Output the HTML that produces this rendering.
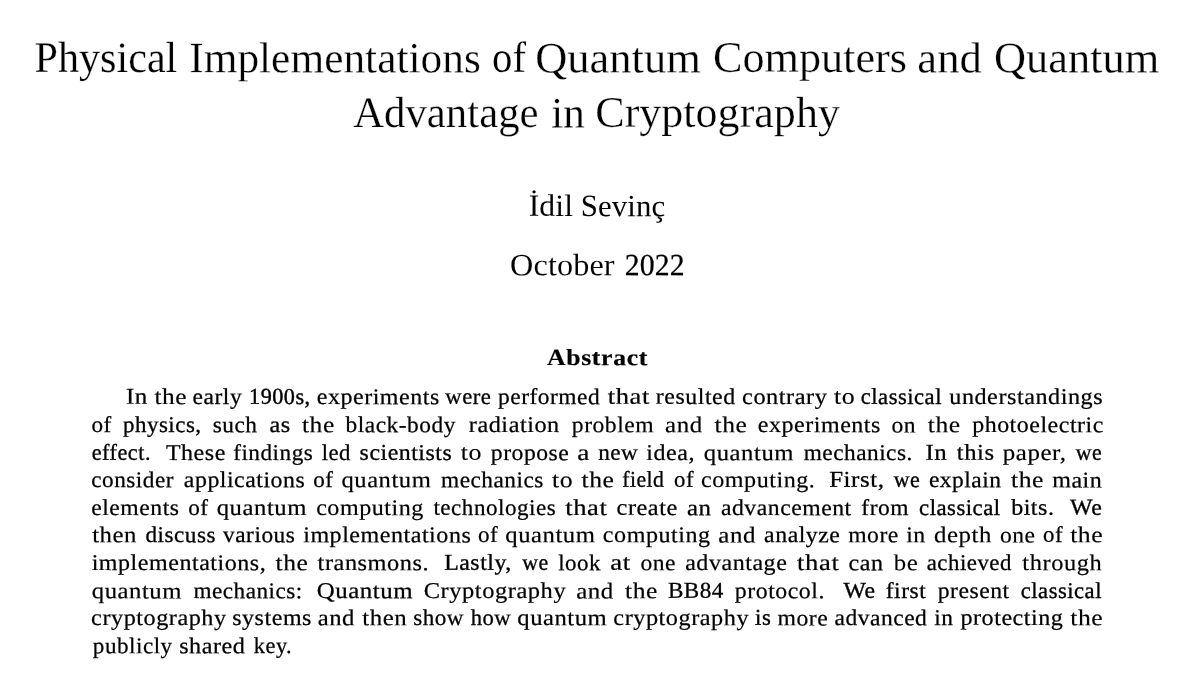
<!DOCTYPE html>
<html lang="en">
<head>
<meta charset="utf-8">
<title>Physical Implementations of Quantum Computers and Quantum Advantage in Cryptography</title>
<style>
html,body{margin:0;padding:0;background:#fff;}
body{width:1202px;height:692px;overflow:hidden;position:relative;font-family:"Liberation Serif",serif;color:#000;}
h1,h2,p{margin:0;padding:0;white-space:nowrap;}
span{position:absolute;left:0;top:0;display:block;transform-origin:0 0;white-space:pre;}
.title{font-size:43.5px;line-height:57px;font-weight:normal;}
.author{font-size:31px;line-height:40px;letter-spacing:0.1px;font-weight:normal;}
.abshead{font-size:23px;line-height:30px;letter-spacing:0.6px;font-weight:bold;}
.abs{font-size:22.6px;line-height:29px;letter-spacing:0.5px;font-weight:normal;}
</style>
</head>
<body>
<h1 class="title">
<span style="transform:matrix(0.9683,0.001,0,1,34.55,28.82);-webkit-text-stroke:0.193px #fff">Physical</span> <span style="transform:matrix(0.9974,0.001,0,1,189.18,29.31);-webkit-text-stroke:0.28px #fff">Implementations</span> <span style="transform:matrix(0.9351,0.001,0,1,492.08,28.72);-webkit-text-stroke:0.134px #fff">of</span> <span style="transform:matrix(1.0235,0.001,0,1,535.13,29.43);-webkit-text-stroke:0.278px #fff">Quantum</span> <span style="transform:matrix(1.0162,0.001,0,1,712.93,28.78);-webkit-text-stroke:0.27px #fff">Computers</span> <span style="transform:matrix(1.0278,0.001,0,1,917.31,29.53);-webkit-text-stroke:0.271px #fff">and</span> <span style="transform:matrix(1.0212,0.001,0,1,993.88,29.31);-webkit-text-stroke:0.25px #fff">Quantum</span>
<span style="transform:matrix(0.984,0.001,0,1,353.15,83.93);-webkit-text-stroke:0.258px #fff">Advantage</span> <span style="transform:matrix(0.9918,0.001,0,1,551.22,84.45);-webkit-text-stroke:0.238px #fff">in</span> <span style="transform:matrix(1.0125,0.001,0,1,595.27,83.73);-webkit-text-stroke:0.267px #fff">Cryptography</span>
</h1>
<p class="author">
<span style="transform:matrix(1.0245,0.001,0,1,528.67,185.85);-webkit-text-stroke:0.029px #fff">İdil</span> <span style="transform:matrix(0.9945,0.001,0,1,580.81,186.11);-webkit-text-stroke:0.018px #000">Sevinç</span>
</p>
<p class="author">
<span style="transform:matrix(1.0405,0.001,0,1,510.09,245.13);-webkit-text-stroke:0.067px #fff">October</span> <span style="transform:matrix(0.9603,0.001,0,1,624.73,245.13);-webkit-text-stroke:0.245px #000">2022</span>
</p>
<h2 class="abshead">
<span style="transform:matrix(1.1167,0.001,0,1,547,343.08);-webkit-text-stroke:0.193px #000">Abstract</span>
</h2>
<p class="abs">
<span style="transform:matrix(1.1037,0.001,0,1,125.9,381.74);-webkit-text-stroke:0.231px #000">In</span> <span style="transform:matrix(1.1232,0.001,0,1,154.48,382.11);-webkit-text-stroke:0.143px #000">the</span> <span style="transform:matrix(1.0396,0.001,0,1,192.62,381.93);-webkit-text-stroke:0.273px #000">early</span> <span style="transform:matrix(0.982,0.001,0,1,249.07,381.84);-webkit-text-stroke:0.414px #000">1900s,</span> <span style="transform:matrix(1.0609,0.001,0,1,316.76,382.09);-webkit-text-stroke:0.234px #000">experiments</span> <span style="transform:matrix(1.0054,0.001,0,1,445.31,381.85);-webkit-text-stroke:0.285px #000">were</span> <span style="transform:matrix(1.0355,0.001,0,1,498.08,382.05);-webkit-text-stroke:0.244px #000">performed</span> <span style="transform:matrix(1.1764,0.001,0,1,607.69,381.82);-webkit-text-stroke:0.197px #000">that</span> <span style="transform:matrix(1.0558,0.001,0,1,655.87,381.85);-webkit-text-stroke:0.236px #000">resulted</span> <span style="transform:matrix(1.077,0.001,0,1,742.07,381.97);-webkit-text-stroke:0.236px #000">contrary</span> <span style="transform:matrix(1.1464,0.001,0,1,833.88,381.81);-webkit-text-stroke:0.142px #000">to</span> <span style="transform:matrix(1.0017,0.001,0,1,860.76,381.86);-webkit-text-stroke:0.337px #000">classical</span> <span style="transform:matrix(1.0697,0.001,0,1,949.26,381.97);-webkit-text-stroke:0.227px #000">understandings</span>
<span style="transform:matrix(1.0253,0.001,0,1,91.5,410.05);-webkit-text-stroke:0.254px #000">of</span> <span style="transform:matrix(1.015,0.001,0,1,123.01,410.02);-webkit-text-stroke:0.306px #000">physics,</span> <span style="transform:matrix(1.0306,0.001,0,1,212.69,410.15);-webkit-text-stroke:0.254px #000">such</span> <span style="transform:matrix(1.0716,0.001,0,1,269.4,410.05);-webkit-text-stroke:0.301px #000">as</span> <span style="transform:matrix(1.1298,0.001,0,1,301.96,410.26);-webkit-text-stroke:0.169px #000">the</span> <span style="transform:matrix(1.0346,0.001,0,1,345.57,410.11);-webkit-text-stroke:0.24px #000">black-body</span> <span style="transform:matrix(1.0723,0.001,0,1,468.83,410.02);-webkit-text-stroke:0.232px #000">radiation</span> <span style="transform:matrix(1.0453,0.001,0,1,571.8,410.31);-webkit-text-stroke:0.193px #000">problem</span> <span style="transform:matrix(1.1028,0.001,0,1,665.03,410.22);-webkit-text-stroke:0.194px #000">and</span> <span style="transform:matrix(1.1292,0.001,0,1,714.62,410.2);-webkit-text-stroke:0.165px #000">the</span> <span style="transform:matrix(1.0618,0.001,0,1,757.82,410.08);-webkit-text-stroke:0.23px #000">experiments</span> <span style="transform:matrix(1.0435,0.001,0,1,891.51,410.39);-webkit-text-stroke:0.21px #000">on</span> <span style="transform:matrix(1.1298,0.001,0,1,927.87,410.28);-webkit-text-stroke:0.137px #000">the</span> <span style="transform:matrix(1.0585,0.001,0,1,972.16,410.08);-webkit-text-stroke:0.226px #000">photoelectric</span>
<span style="transform:matrix(0.9867,0.001,0,1,91.65,437.68);-webkit-text-stroke:0.329px #000">effect.</span> <span style="transform:matrix(1.0619,0.001,0,1,165.88,437.92);-webkit-text-stroke:0.238px #000">These</span> <span style="transform:matrix(1.0277,0.001,0,1,233.15,437.91);-webkit-text-stroke:0.239px #000">findings</span> <span style="transform:matrix(1.0082,0.001,0,1,321.66,437.9);-webkit-text-stroke:0.256px #000">led</span> <span style="transform:matrix(1.0544,0.001,0,1,359.62,437.83);-webkit-text-stroke:0.305px #000">scientists</span> <span style="transform:matrix(1.1489,0.001,0,1,460.63,437.86);-webkit-text-stroke:0.122px #000">to</span> <span style="transform:matrix(1.0468,0.001,0,1,490.8,438.07);-webkit-text-stroke:0.24px #000">propose</span> <span style="transform:matrix(1.2125,0.001,0,1,577.29,438.05);-webkit-text-stroke:0.222px #000">a</span> <span style="transform:matrix(1.0246,0.001,0,1,598.25,437.84);-webkit-text-stroke:0.277px #000">new</span> <span style="transform:matrix(1.0626,0.001,0,1,646.37,437.93);-webkit-text-stroke:0.231px #000">idea,</span> <span style="transform:matrix(1.0919,0.001,0,1,703.85,438.15);-webkit-text-stroke:0.199px #000">quantum</span> <span style="transform:matrix(1.0301,0.001,0,1,803.68,437.95);-webkit-text-stroke:0.25px #000">mechanics.</span> <span style="transform:matrix(1.1004,0.001,0,1,925.41,437.82);-webkit-text-stroke:0.26px #000">In</span> <span style="transform:matrix(1.0897,0.001,0,1,956.77,437.83);-webkit-text-stroke:0.249px #000">this</span> <span style="transform:matrix(1.1025,0.001,0,1,1002.79,438);-webkit-text-stroke:0.2px #000">paper,</span> <span style="transform:matrix(0.966,0.001,0,1,1075.86,437.85);-webkit-text-stroke:0.323px #000">we</span>
<span style="transform:matrix(1.0285,0.001,0,1,91.19,465.1);-webkit-text-stroke:0.251px #000">consider</span> <span style="transform:matrix(1.0541,0.001,0,1,183.85,465.05);-webkit-text-stroke:0.254px #000">applications</span> <span style="transform:matrix(1.0204,0.001,0,1,313.26,464.89);-webkit-text-stroke:0.25px #000">of</span> <span style="transform:matrix(1.0878,0.001,0,1,341.48,465.13);-webkit-text-stroke:0.187px #000">quantum</span> <span style="transform:matrix(1.0312,0.001,0,1,440.99,465.13);-webkit-text-stroke:0.25px #000">mechanics</span> <span style="transform:matrix(1.1405,0.001,0,1,552.11,465.13);-webkit-text-stroke:0.154px #000">to</span> <span style="transform:matrix(1.1339,0.001,0,1,581.56,465.23);-webkit-text-stroke:0.171px #000">the</span> <span style="transform:matrix(0.9623,0.001,0,1,622.18,464.83);-webkit-text-stroke:0.302px #000">field</span> <span style="transform:matrix(1.0044,0.001,0,1,674.03,464.85);-webkit-text-stroke:0.268px #000">of</span> <span style="transform:matrix(1.0664,0.001,0,1,700.97,465.08);-webkit-text-stroke:0.184px #000">computing.</span> <span style="transform:matrix(1.1049,0.001,0,1,829.16,464.76);-webkit-text-stroke:0.284px #000">First,</span> <span style="transform:matrix(0.9698,0.001,0,1,893.77,464.86);-webkit-text-stroke:0.349px #000">we</span> <span style="transform:matrix(1.0378,0.001,0,1,928.89,465.11);-webkit-text-stroke:0.259px #000">explain</span> <span style="transform:matrix(1.1362,0.001,0,1,1010.99,465.21);-webkit-text-stroke:0.167px #000">the</span> <span style="transform:matrix(1.0618,0.001,0,1,1052.23,465.36);-webkit-text-stroke:0.237px #000">main</span>
<span style="transform:matrix(1.0469,0.001,0,1,91.23,493.04);-webkit-text-stroke:0.224px #000">elements</span> <span style="transform:matrix(1.026,0.001,0,1,188.25,492.95);-webkit-text-stroke:0.244px #000">of</span> <span style="transform:matrix(1.0928,0.001,0,1,216.7,493.02);-webkit-text-stroke:0.201px #000">quantum</span> <span style="transform:matrix(1.0653,0.001,0,1,316.13,493.06);-webkit-text-stroke:0.185px #000">computing</span> <span style="transform:matrix(1.0206,0.001,0,1,433.45,492.86);-webkit-text-stroke:0.242px #000">technologies</span> <span style="transform:matrix(1.177,0.001,0,1,565.15,493.05);-webkit-text-stroke:0.223px #000">that</span> <span style="transform:matrix(1.0754,0.001,0,1,616.56,492.86);-webkit-text-stroke:0.234px #000">create</span> <span style="transform:matrix(1.0992,0.001,0,1,687.03,493.21);-webkit-text-stroke:0.255px #000">an</span> <span style="transform:matrix(1.0487,0.001,0,1,720.96,493.05);-webkit-text-stroke:0.234px #000">advancement</span> <span style="transform:matrix(1.0404,0.001,0,1,861.33,493.09);-webkit-text-stroke:0.24px #000">from</span> <span style="transform:matrix(1.0057,0.001,0,1,919.12,492.9);-webkit-text-stroke:0.347px #000">classical</span> <span style="transform:matrix(1.0626,0.001,0,1,1011.13,492.79);-webkit-text-stroke:0.293px #000">bits.</span> <span style="transform:matrix(1.0562,0.001,0,1,1070.05,492.61);-webkit-text-stroke:0.32px #000">We</span>
<span style="transform:matrix(1.0977,0.001,0,1,92.16,520.29);-webkit-text-stroke:0.17px #000">then</span> <span style="transform:matrix(1.0257,0.001,0,1,145.49,520.09);-webkit-text-stroke:0.298px #000">discuss</span> <span style="transform:matrix(1.0313,0.001,0,1,223.09,520.09);-webkit-text-stroke:0.287px #000">various</span> <span style="transform:matrix(1.0634,0.001,0,1,303.18,520.24);-webkit-text-stroke:0.23px #000">implementations</span> <span style="transform:matrix(1.0223,0.001,0,1,477.97,520.02);-webkit-text-stroke:0.227px #000">of</span> <span style="transform:matrix(1.0915,0.001,0,1,505.34,520.27);-webkit-text-stroke:0.191px #000">quantum</span> <span style="transform:matrix(1.0659,0.001,0,1,602.87,520.11);-webkit-text-stroke:0.198px #000">computing</span> <span style="transform:matrix(1.1038,0.001,0,1,718.28,520.4);-webkit-text-stroke:0.212px #000">and</span> <span style="transform:matrix(1.053,0.001,0,1,764.12,520.09);-webkit-text-stroke:0.256px #000">analyze</span> <span style="transform:matrix(1.046,0.001,0,1,848.2,520.28);-webkit-text-stroke:0.208px #000">more</span> <span style="transform:matrix(1.0484,0.001,0,1,906.16,520.31);-webkit-text-stroke:0.237px #000">in</span> <span style="transform:matrix(1.1,0.001,0,1,933.93,520.17);-webkit-text-stroke:0.15px #000">depth</span> <span style="transform:matrix(1.0419,0.001,0,1,999.92,520.5);-webkit-text-stroke:0.184px #000">one</span> <span style="transform:matrix(1.0111,0.001,0,1,1043.04,519.87);-webkit-text-stroke:0.266px #000">of</span> <span style="transform:matrix(1.1387,0.001,0,1,1070.13,520.32);-webkit-text-stroke:0.129px #000">the</span>
<span style="transform:matrix(1.0628,0.001,0,1,91.67,548.01);-webkit-text-stroke:0.229px #000">implementations,</span> <span style="transform:matrix(1.1289,0.001,0,1,275.56,548.22);-webkit-text-stroke:0.169px #000">the</span> <span style="transform:matrix(1.0768,0.001,0,1,317.61,548.09);-webkit-text-stroke:0.223px #000">transmons.</span> <span style="transform:matrix(1.0548,0.001,0,1,444.17,547.81);-webkit-text-stroke:0.318px #000">Lastly,</span> <span style="transform:matrix(0.97,0.001,0,1,522.29,547.81);-webkit-text-stroke:0.338px #000">we</span> <span style="transform:matrix(1.0169,0.001,0,1,558.2,548.15);-webkit-text-stroke:0.25px #000">look</span> <span style="transform:matrix(1.187,0.001,0,1,610.26,547.7);-webkit-text-stroke:0.239px #000">at</span> <span style="transform:matrix(1.0449,0.001,0,1,640.41,548.23);-webkit-text-stroke:0.193px #000">one</span> <span style="transform:matrix(1.0637,0.001,0,1,685.15,547.98);-webkit-text-stroke:0.215px #000">advantage</span> <span style="transform:matrix(1.1785,0.001,0,1,797.08,548.08);-webkit-text-stroke:0.213px #000">that</span> <span style="transform:matrix(1.0601,0.001,0,1,848.6,548.15);-webkit-text-stroke:0.26px #000">can</span> <span style="transform:matrix(1.0991,0.001,0,1,893.66,548.13);-webkit-text-stroke:0.087px #000">be</span> <span style="transform:matrix(1.011,0.001,0,1,926.71,548.01);-webkit-text-stroke:0.262px #000">achieved</span> <span style="transform:matrix(1.0815,0.001,0,1,1022.36,548.11);-webkit-text-stroke:0.162px #000">through</span>
<span style="transform:matrix(1.0927,0.001,0,1,91.75,576.34);-webkit-text-stroke:0.19px #000">quantum</span> <span style="transform:matrix(1.025,0.001,0,1,193.5,576.11);-webkit-text-stroke:0.249px #000">mechanics:</span> <span style="transform:matrix(1.102,0.001,0,1,316.69,576.08);-webkit-text-stroke:0.25px #000">Quantum</span> <span style="transform:matrix(1.0829,0.001,0,1,423.75,576);-webkit-text-stroke:0.209px #000">Cryptography</span> <span style="transform:matrix(1.1038,0.001,0,1,576.21,576.39);-webkit-text-stroke:0.195px #000">and</span> <span style="transform:matrix(1.1317,0.001,0,1,624.96,576.18);-webkit-text-stroke:0.149px #000">the</span> <span style="transform:matrix(1.024,0.001,0,1,667.89,575.72);-webkit-text-stroke:0.264px #000">BB84</span> <span style="transform:matrix(1.0542,0.001,0,1,734.82,576.12);-webkit-text-stroke:0.229px #000">protocol.</span> <span style="transform:matrix(1.0494,0.001,0,1,843.53,575.69);-webkit-text-stroke:0.337px #000">We</span> <span style="transform:matrix(1.0418,0.001,0,1,885.73,575.89);-webkit-text-stroke:0.296px #000">first</span> <span style="transform:matrix(1.047,0.001,0,1,937.7,576.05);-webkit-text-stroke:0.245px #000">present</span> <span style="transform:matrix(1.001,0.001,0,1,1020.8,576.01);-webkit-text-stroke:0.338px #000">classical</span>
<span style="transform:matrix(1.0721,0.001,0,1,91.09,603.03);-webkit-text-stroke:0.216px #000">cryptography</span> <span style="transform:matrix(1.0629,0.001,0,1,232.19,603.01);-webkit-text-stroke:0.244px #000">systems</span> <span style="transform:matrix(1.0942,0.001,0,1,317.65,603.15);-webkit-text-stroke:0.209px #000">and</span> <span style="transform:matrix(1.1018,0.001,0,1,362.31,603.2);-webkit-text-stroke:0.166px #000">then</span> <span style="transform:matrix(1.0225,0.001,0,1,413.23,603.05);-webkit-text-stroke:0.255px #000">show</span> <span style="transform:matrix(1.0029,0.001,0,1,470.65,603.04);-webkit-text-stroke:0.28px #000">how</span> <span style="transform:matrix(1.0904,0.001,0,1,517.27,603.1);-webkit-text-stroke:0.211px #000">quantum</span> <span style="transform:matrix(1.0736,0.001,0,1,613.34,603.04);-webkit-text-stroke:0.198px #000">cryptography</span> <span style="transform:matrix(1.0054,0.001,0,1,755.08,602.73);-webkit-text-stroke:0.365px #000">is</span> <span style="transform:matrix(1.0476,0.001,0,1,777.58,603.37);-webkit-text-stroke:0.209px #000">more</span> <span style="transform:matrix(1.0404,0.001,0,1,834.47,603.1);-webkit-text-stroke:0.237px #000">advanced</span> <span style="transform:matrix(1.0323,0.001,0,1,934.31,602.99);-webkit-text-stroke:0.251px #000">in</span> <span style="transform:matrix(1.0662,0.001,0,1,960.44,602.86);-webkit-text-stroke:0.232px #000">protecting</span> <span style="transform:matrix(1.1376,0.001,0,1,1070.17,603.19);-webkit-text-stroke:0.117px #000">the</span>
<span style="transform:matrix(1.022,0.001,0,1,92.87,631.17);-webkit-text-stroke:0.223px #000">publicly</span> <span style="transform:matrix(1.0688,0.001,0,1,179.18,631.32);-webkit-text-stroke:0.249px #000">shared</span> <span style="transform:matrix(0.9898,0.001,0,1,253.79,631.04);-webkit-text-stroke:0.261px #000">key.</span>
</p>
</body>
</html>
